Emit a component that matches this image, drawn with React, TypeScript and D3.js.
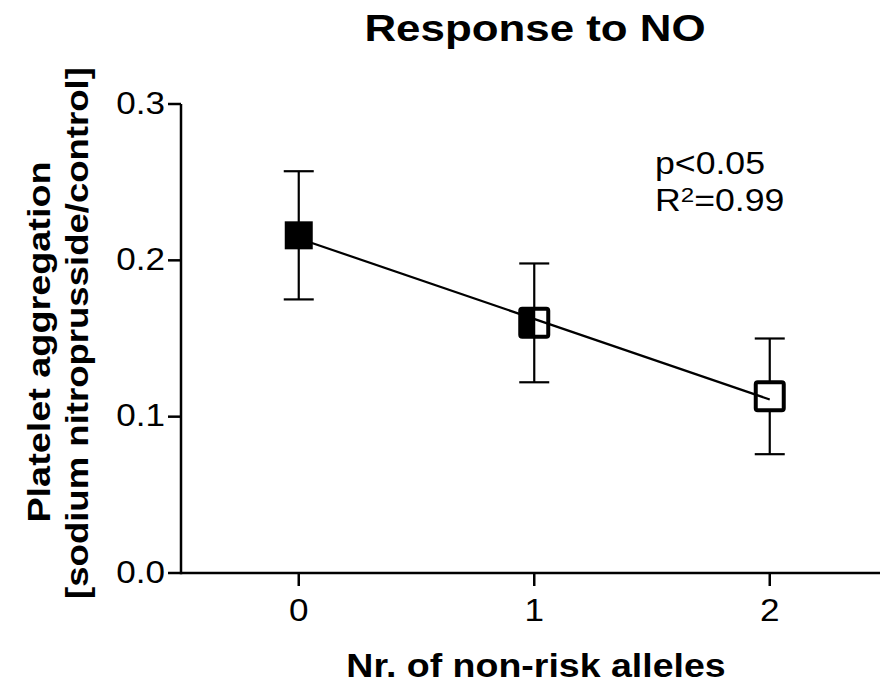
import React, { useRef, useEffect } from 'react'
import * as d3 from 'd3'

// values
const alleles = [0, 1, 2]
const means = [0.216, 0.160, 0.113]
const upper = [0.257, 0.198, 0.150]
const lower = [0.175, 0.122, 0.076]
const fill = ['full', 'half', 'none']
// linear regression line through the means, at x = 0 and x = 2
const fitX = [0, 2]
const fitY = [0.214, 0.111]
const yTicks = [0, 0.1, 0.2, 0.3]
const xTicks = [0, 1, 2]

const FONT = '"Liberation Sans", Arial, sans-serif'

const App = () => {
  const svgRef = useRef<SVGSVGElement>(null)

  useEffect(() => {
    const width = 880
    const left = 181
    const top = 104
    const bottom = 573

    const svg = d3.select(svgRef.current)
    svg.selectAll('*').remove()

    const x = d3.scaleLinear().domain([-0.5, 2.5]).range([left, left + 3 * 235.5])
    const y = d3.scaleLinear().domain([0, 0.3]).range([bottom, top])

    // the original font is wider than Arial, so stretch each text horizontally
    const label = (tx, ty, str, size, weight, anchor, sx, rotate = 0) => {
      const g = svg.append('g')
        .attr('transform', `translate(${tx},${ty}) rotate(${rotate}) scale(${sx},1)`)
      return g.append('text')
        .attr('font-family', FONT)
        .attr('font-size', size)
        .attr('font-weight', weight)
        .attr('text-anchor', anchor)
        .attr('fill', '#000')
        .text(str)
    }

    // axes
    svg.append('line')
      .attr('x1', left).attr('x2', width)
      .attr('y1', bottom).attr('y2', bottom)
      .attr('stroke', '#000').attr('stroke-width', 2.5)
    svg.append('line')
      .attr('x1', left).attr('x2', left)
      .attr('y1', top).attr('y2', bottom + 1.25)
      .attr('stroke', '#000').attr('stroke-width', 2.5)

    yTicks.forEach(t => {
      svg.append('line')
        .attr('x1', left - 13).attr('x2', left)
        .attr('y1', y(t)).attr('y2', y(t))
        .attr('stroke', '#000').attr('stroke-width', 2.5)
      label(165, y(t) + 9.5, d3.format('.1f')(t), 30.5, 'normal', 'end', 1.15)
    })
    xTicks.forEach(t => {
      svg.append('line')
        .attr('x1', x(t)).attr('x2', x(t))
        .attr('y1', bottom).attr('y2', bottom + 13)
        .attr('stroke', '#000').attr('stroke-width', 2.5)
      label(x(t), 621, String(t), 30.5, 'normal', 'middle', 1.15)
    })

    // error bars
    alleles.forEach((a, i) => {
      const g = svg.append('g').attr('stroke', '#000').attr('stroke-width', 2.2)
      g.append('line').attr('x1', x(a)).attr('x2', x(a)).attr('y1', y(upper[i])).attr('y2', y(lower[i]))
      g.append('line').attr('x1', x(a) - 15).attr('x2', x(a) + 15).attr('y1', y(upper[i])).attr('y2', y(upper[i]))
      g.append('line').attr('x1', x(a) - 15).attr('x2', x(a) + 15).attr('y1', y(lower[i])).attr('y2', y(lower[i]))
    })

    // markers
    alleles.forEach((a, i) => {
      const cx = x(a)
      const cy = y(means[i])
      if (fill[i] === 'full') {
        svg.append('rect')
          .attr('x', cx - 14).attr('y', cy - 14)
          .attr('width', 28).attr('height', 28)
          .attr('fill', '#000')
      } else {
        svg.append('rect')
          .attr('x', cx - 14).attr('y', cy - 14)
          .attr('width', 28).attr('height', 28)
          .attr('rx', 2)
          .attr('fill', '#fff')
          .attr('stroke', '#000').attr('stroke-width', 4)
        if (fill[i] === 'half') {
          svg.append('rect')
            .attr('x', cx - 14).attr('y', cy - 14)
            .attr('width', 15).attr('height', 28)
            .attr('fill', '#000')
        }
      }
    })

    // regression line
    svg.append('path')
      .datum(fitX.map((v, i) => [v, fitY[i]]))
      .attr('d', d3.line().x(d => x(d[0])).y(d => y(d[1])))
      .attr('fill', 'none')
      .attr('stroke', '#000')
      .attr('stroke-width', 2.2)

    // titles
    label(535, 41, 'Response to NO', 37.5, 'bold', 'middle', 1.17)
    label(536, 677, 'Nr. of non-risk alleles', 33.5, 'bold', 'middle', 1.12)
    label(50, 342, 'Platelet aggregation', 31.5, 'bold', 'middle', 1.2, -90)
    label(88, 333, '[sodium nitroprusside/control]', 31.5, 'bold', 'middle', 1.16, -90)

    // stats
    label(655, 174, 'p<0.05', 31, 'normal', 'start', 1.15)
    const r2 = label(655, 211, 'R', 31, 'normal', 'start', 1.15)
    r2.append('tspan').attr('font-size', 21).attr('dy', -9).text('2')
    r2.append('tspan').attr('dy', 9).text('=0.99')
  }, [])

  return (
    <svg
      ref={svgRef}
      width={880}
      height={684}
      style={{ position: 'absolute', left: 0, top: 0, background: '#fff' }}
    />
  )
}

export default App
